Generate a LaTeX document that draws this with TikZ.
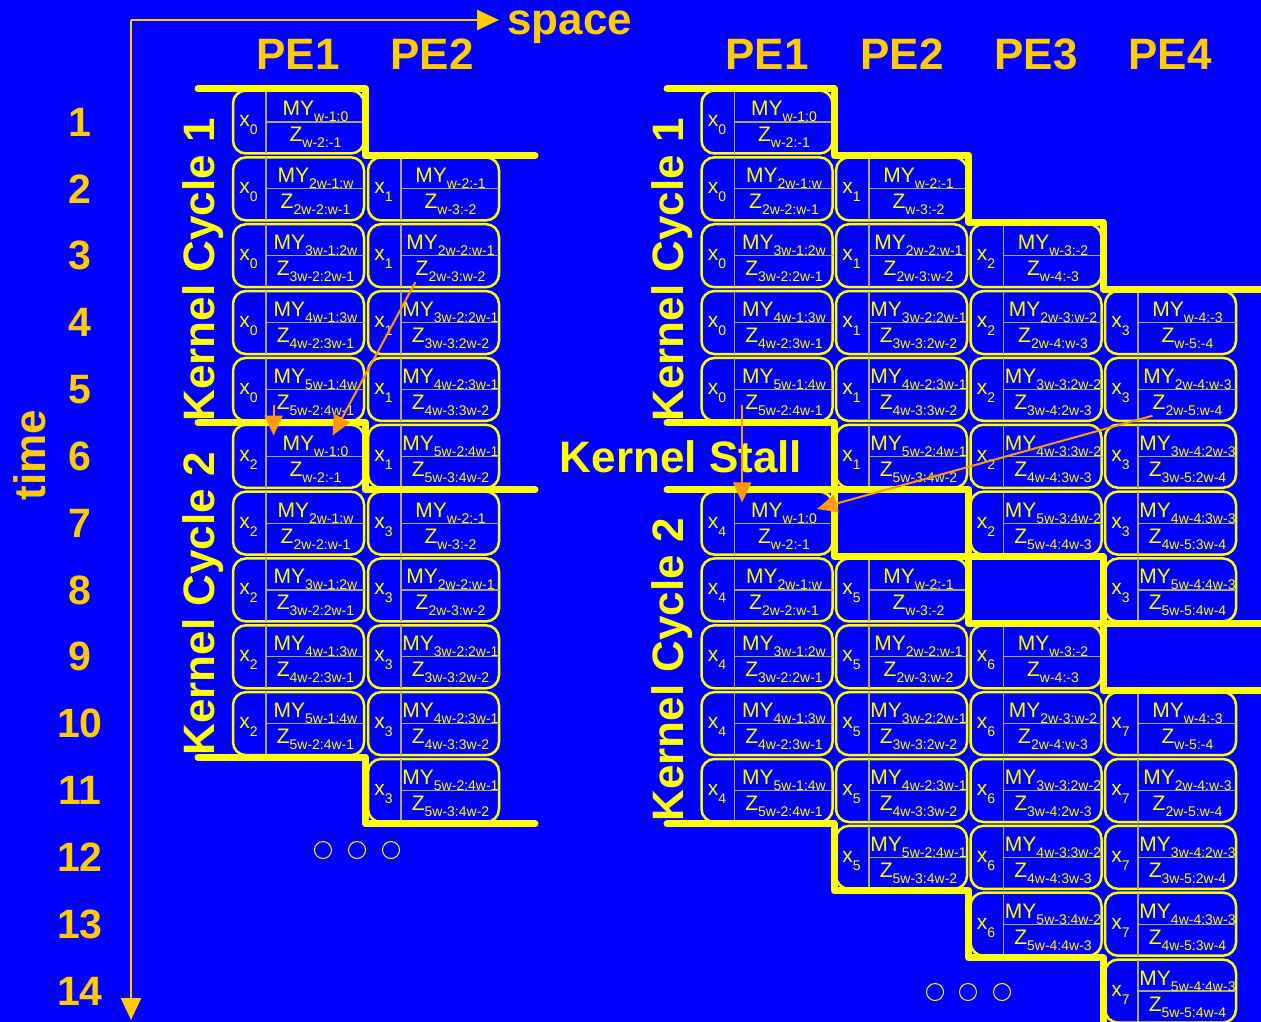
\documentclass[tikz,border=0pt]{standalone}
\usepackage{fontspec}
\setmainfont{Liberation Sans}
\usetikzlibrary{arrows.meta}

\definecolor{slide}{RGB}{0,0,255}
\definecolor{hilite}{RGB}{255,255,0}
\definecolor{gold}{RGB}{255,204,0}
\definecolor{flowc}{RGB}{255,153,0}
\definecolor{divline}{RGB}{170,170,120}

\newcommand{\sbs}[1]{\raisebox{-6pt}{\fontsize{14}{15}\selectfont #1}}
\newcommand{\wterm}[2]{\ifnum#1=0 \ifnum#2=0 0\else -#2\fi\else\ifnum#1=1 w\else #1w\fi\ifnum#2>0 -#2\fi\fi}
% one PE slot: name, x, row, k, j, x index
\newcommand{\pecell}[6]{%
  \node (#1) [cell] at (#2,{122+(#3-1)*66.85}) {};
  \draw [divider] ([xshift=33pt]#1.north west) -- ([xshift=33pt]#1.south west);
  \draw [divider] ([xshift=33pt]#1.west) -- (#1.east);
  \node (#1-x) [celltext] at ([xshift=-50pt,yshift=-5pt]#1.center) {x\raisebox{-2pt}{\sbs{#6}}};
  \node (#1-my) [celltext] at ([xshift=17pt,yshift=6pt]#1.center) {MY\sbs{\wterm{#4}{\the\numexpr#5+1\relax}:\wterm{\the\numexpr#4-1\relax}{#5}}};
  \node (#1-z) [celltext] at ([xshift=17pt,yshift=-20pt]#1.center) {Z\sbs{\wterm{#4}{\the\numexpr#5+2\relax}:\wterm{\the\numexpr#4-1\relax}{\the\numexpr#5+1\relax}}};
}

\begin{document}
\begin{tikzpicture}[
    x=1pt, y=-1pt,
    cell/.style={rectangle, draw=hilite, line width=2.5pt, rounded corners=13pt, minimum width=131pt, minimum height=63pt, outer sep=0pt, inner sep=0pt},
    divider/.style={draw=divline, line width=1.2pt},
    celltext/.style={anchor=base, inner sep=0pt, text=hilite, font=\fontsize{21}{24}\selectfont},
    headlbl/.style={text=gold, font=\fontsize{44}{48}\selectfont\bfseries, inner sep=0pt},
    numlbl/.style={text=gold, font=\fontsize{41}{44}\selectfont\bfseries, inner sep=0pt},
    kernlbl/.style={text=hilite, font=\fontsize{44}{48}\selectfont\bfseries, inner sep=0pt},
    stair/.style={draw=hilite, line width=7pt, line cap=round, line join=round},
    timeaxis/.style={draw=gold, line width=2.5pt, -{Triangle[length=22pt,width=20pt]}},
    flow/.style={draw=flowc, line width=2pt, -{Triangle[length=20pt,width=18pt]}},
    etcdot/.style={circle, draw=hilite, line width=1pt, minimum size=17pt, inner sep=0pt}
]
\useasboundingbox (0,0) rectangle (1261,1022);
\fill [slide] (0,0) rectangle (1261,1022);

% axes
\coordinate (corner) at (131,20);
\coordinate (tend) at (131,1020);
\coordinate (send) at (499,20);
\draw [timeaxis] (corner) -- (send);
\draw [timeaxis] (corner) -- (tend);
\node (space) [headlbl, anchor=base west] at (507,35) {space};
\node (time) [headlbl, rotate=90, anchor=base] at (45,455) {time};

\foreach \r in {1,...,14}
  \node (row\r) [numlbl] at (80,{122+(\r-1)*66.85}) {\r};

\node (lpe1) [headlbl, anchor=base] at (298,70) {PE1};
\node (lpe2) [headlbl, anchor=base] at (432,70) {PE2};
\node (rpe1) [headlbl, anchor=base] at (767,70) {PE1};
\node (rpe2) [headlbl, anchor=base] at (902,70) {PE2};
\node (rpe3) [headlbl, anchor=base] at (1036,70) {PE3};
\node (rpe4) [headlbl, anchor=base] at (1170,70) {PE4};

% left: no stall
\foreach \c/\cx in {1/298.5, 2/433.5} {
  \pgfmathtruncatemacro{\j}{\c-1}
  \pgfmathtruncatemacro{\jj}{\c+1}
  \foreach \k in {1,...,5} {
    \pgfmathtruncatemacro{\ra}{\c+\k-1}
    \pgfmathtruncatemacro{\rb}{\c+\k+4}
    \pecell{L-\c-\ra}{\cx}{\ra}{\k}{\j}{\j}
    \pecell{L-\c-\rb}{\cx}{\rb}{\k}{\j}{\jj}
  }
}

% right: one stall slot per PE
\foreach \c/\cx in {1/767, 2/901.5, 3/1036, 4/1170.5} {
  \pgfmathtruncatemacro{\j}{\c-1}
  \pgfmathtruncatemacro{\jj}{\c+3}
  \foreach \k in {1,...,5} {
    \pgfmathtruncatemacro{\ra}{\c+\k-1}
    \pgfmathtruncatemacro{\rb}{\c+\k+5}
    \pecell{R-\c-\ra}{\cx}{\ra}{\k}{\j}{\j}
    \pecell{R-\c-\rb}{\cx}{\rb}{\k}{\j}{\jj}
  }
}

\node (lk1) [kernlbl, rotate=90, anchor=base] at (214,270) {Kernel Cycle 1};
\node (lk2) [kernlbl, rotate=90, anchor=base] at (214,604) {Kernel Cycle 2};
\node (rk1) [kernlbl, rotate=90, anchor=base] at (683,270) {Kernel Cycle 1};
\node (rk2) [kernlbl, rotate=90, anchor=base] at (683,670) {Kernel Cycle 2};
\node (stall) [kernlbl, anchor=base] at (681,472) {Kernel Stall};

% cycle borders
\draw [stair] (198,88.6) -| (365.5,155.45) -- (535,155.45);
\draw [stair] (198,422.85) -| (365.5,489.7) -- (535,489.7);
\draw [stair] (198,757.1) -| (365.5,823.95) -- (535,823.95);

\draw [stair] (667,88.6) -| (834.25,155.45) -| (968.75,222.3) -| (1103.25,289.15) -- (1270,289.15);
\draw [stair] (667,422.85) -| (834.25,489.7) -| (968.75,556.55) -| (1103.25,623.4) -- (1270,623.4);
\draw [stair] (667,489.7) -| (834.25,556.55) -| (968.75,623.4) -| (1103.25,690.25) -- (1270,690.25);
\draw [stair] (667,823.95) -| (834.25,890.8) -| (968.75,957.65) -| (1103.25,1030);

\foreach \d/\dx/\dy in {1/323/850, 2/357/850, 3/391/850, 4/935/992, 5/968/992, 6/1002/992}
  \node (dot\d) [etcdot] at (\dx,\dy) {};

% dependences
\draw [flow] ([xshift=-3pt]L-1-5-z.west) -- ([xshift=-3pt]L-1-5-z.west |- L-1-6-my.north west);
\draw [flow] (L-2-3-z.south west) -- ([xshift=17pt]L-1-6-my.north);
\draw [flow] ([xshift=-3pt]R-1-5-z.west) -- ([xshift=-3pt]R-1-5-z.west |- R-1-7-my.north west);
\draw [flow] (R-4-5-z.south west) -- ([yshift=4pt]R-1-7-my.east);

\end{tikzpicture}
\end{document}
